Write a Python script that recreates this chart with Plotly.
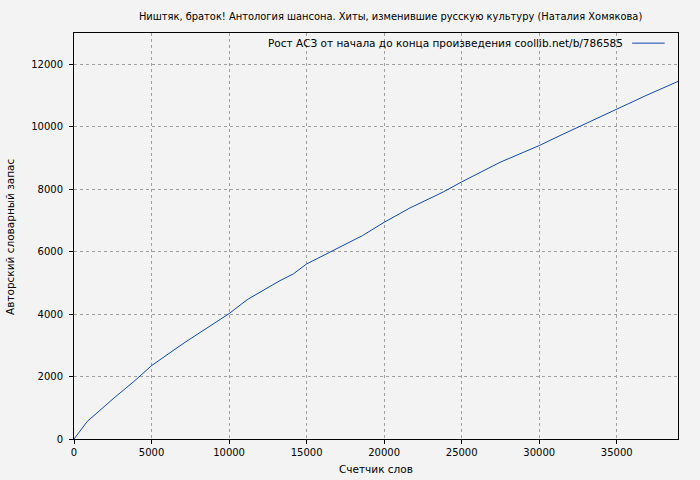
import plotly.graph_objects as go

title_text = "Ништяк, браток! Антология шансона. Хиты, изменившие русскую культуру (Наталия Хомякова)"
legend_text = "Рост АСЗ от начала до конца произведения coollib.net/b/786585"
x_title = "Счетчик слов"
y_title = "Авторский словарный запас"

word_counts = [0, 860, 2580, 3870, 5000, 7090, 10000, 11170, 13285, 14143, 15000,
               16510, 18600, 20000, 21670, 23817, 25000, 27474, 30000, 31340,
               32630, 35000, 36880, 38950]
vocab = [0, 565, 1312, 1845, 2348, 3074, 4013, 4462, 5071, 5285, 5605,
         5990, 6512, 6938, 7399, 7911, 8232, 8860, 9395, 9715,
         10014, 10548, 10996, 11450]

x_ticks = [0, 5000, 10000, 15000, 20000, 25000, 30000, 35000]
y_ticks = [0, 2000, 4000, 6000, 8000, 10000, 12000]

font_family = "DejaVu Sans, Verdana, sans-serif"
line_color = "#1048b2"

fig = go.Figure()
fig.add_trace(go.Scatter(x=word_counts, y=vocab, mode="lines",
                         line=dict(color=line_color, width=1), showlegend=False))

axis_common = dict(showline=True, linecolor="black", linewidth=1, mirror=True,
                   ticks="outside", ticklen=4, tickcolor="black",
                   showgrid=True, gridcolor="#a0a0a0", griddash="dot", gridwidth=1,
                   zeroline=False, tickfont=dict(size=10, color="black"),
                   automargin=False)

fig.update_xaxes(range=[0, 38950], tickvals=x_ticks, ticktext=[str(v) for v in x_ticks],
                 **axis_common)
fig.update_yaxes(range=[0, 13000], tickvals=y_ticks, ticktext=[str(v) for v in y_ticks],
                 ticklabelstandoff=4, **axis_common)

fig.add_annotation(text=x_title, xref="paper", yref="paper", x=0.5, y=-0.074,
                   xanchor="center", yanchor="middle", showarrow=False,
                   font=dict(size=10.5, color="black"))
fig.add_annotation(text=y_title, xref="paper", yref="paper", x=-0.106, y=0.5,
                   xanchor="center", yanchor="middle", showarrow=False, textangle=-90,
                   font=dict(size=10.5, color="black"))

fig.add_annotation(text=legend_text, xref="paper", yref="paper", x=0.913, y=0.975,
                   xanchor="right", yanchor="middle", showarrow=False,
                   font=dict(size=10.5, color="black"))
fig.add_shape(type="line", xref="paper", yref="paper", x0=0.924, x1=0.978, y0=0.975, y1=0.975,
              line=dict(color=line_color, width=1))

fig.update_layout(
    width=700, height=480,
    margin=dict(l=74, r=22, t=33, b=41),
    paper_bgcolor="#f3f3f3", plot_bgcolor="#f3f3f3",
    font=dict(family=font_family, color="black", size=10.5),
    title=dict(text=title_text, x=0.558, xanchor="center", y=0.966, yanchor="middle",
               font=dict(size=9.9, color="black")),
)

fig.write_html("out.html", config={"displayModeBar": False},
               post_script="document.body.style.margin='0';document.body.style.background='#f3f3f3';")
